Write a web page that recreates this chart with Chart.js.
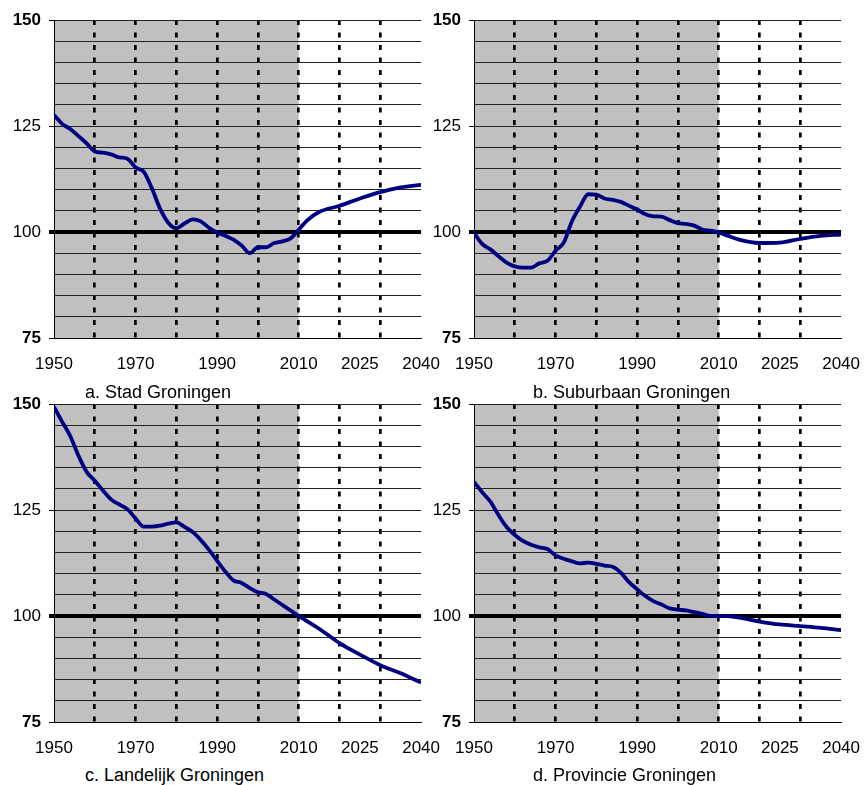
<!DOCTYPE html>
<html>
<head>
<meta charset="utf-8">
<script src="https://cdn.jsdelivr.net/npm/chart.js@4.4.1/dist/chart.umd.min.js"></script>
<style>
  body { margin: 0; background: #fff; }
  #wrap { position: relative; width: 868px; height: 785px; overflow: hidden; }
  .panel { position: absolute; }
  .caption { position: absolute; font-family: 'Liberation Sans', Arial, sans-serif; font-size: 18px; color: #000; white-space: nowrap; }
</style>
</head>
<body>
<div id="wrap">
  <canvas id="chartA" class="panel" width="456" height="380" style="left:0;top:0"></canvas>
  <canvas id="chartB" class="panel" width="456" height="380" style="left:420px;top:0"></canvas>
  <canvas id="chartC" class="panel" width="456" height="380" style="left:0;top:384px"></canvas>
  <canvas id="chartD" class="panel" width="456" height="380" style="left:420px;top:384px"></canvas>
  <div class="caption" style="left:85px;top:382px">a. Stad Groningen</div>
  <div class="caption" style="left:533px;top:382px">b. Suburbaan Groningen</div>
  <div class="caption" style="left:85px;top:765px">c. Landelijk Groningen</div>
  <div class="caption" style="left:533px;top:765px">d. Provincie Groningen</div>
</div>
<script>
// index, base = 100 in 2010
const years = [1950, 1952, 1954, 1956, 1958, 1960, 1962, 1964, 1966, 1968,
               1970, 1972, 1974, 1976, 1978, 1980, 1982, 1984, 1986, 1988,
               1990, 1992, 1994, 1996, 1998, 2000, 2002, 2004, 2006, 2008,
               2010, 2012, 2015, 2020, 2025, 2030, 2035, 2040];

const stad = [127.6, 125.5, 124.3, 122.6, 120.9, 119.0, 118.7, 118.3, 117.6, 117.3,
              115.2, 114.2, 110.3, 105.5, 102.2, 100.9, 102.0, 103.0, 102.5, 101.0,
              99.9, 99.1, 98.2, 96.8, 95.0, 96.4, 96.4, 97.4, 97.8, 98.5,
              100.5, 102.7, 104.7, 106.2, 107.9, 109.4, 110.5, 111.1];

const suburbaan = [99.8, 97.2, 95.9, 94.3, 92.8, 91.9, 91.6, 91.6, 92.6, 93.2,
                   95.6, 97.5, 102.5, 106.0, 108.9, 108.8, 107.9, 107.6, 107.1, 106.2,
                   105.3, 104.2, 103.7, 103.6, 102.8, 102.1, 101.9, 101.5, 100.6, 100.3,
                   99.9, 99.2, 98.2, 97.4, 97.5, 98.4, 99.1, 99.4];

const landelijk = [149.3, 145.8, 142.4, 137.8, 134.0, 131.9, 129.6, 127.5, 126.3, 125.2,
                   123.0, 121.1, 121.1, 121.3, 121.8, 122.1, 121.0, 119.8, 117.9, 115.6,
                   113.0, 110.5, 108.4, 107.8, 106.6, 105.6, 105.2, 103.9, 102.6, 101.3,
                   100.0, 98.8, 97.0, 93.6, 90.9, 88.4, 86.5, 84.3];

const provincie = [131.6, 129.2, 127.0, 123.8, 121.0, 119.1, 117.7, 116.8, 116.2, 115.8,
                   114.3, 113.5, 112.9, 112.4, 112.6, 112.3, 111.9, 111.6, 110.2, 108.0,
                   106.3, 104.7, 103.5, 102.7, 101.8, 101.5, 101.3, 100.9, 100.5, 100.0,
                   100.0, 100.0, 99.6, 98.7, 98.0, 97.6, 97.2, 96.7];

const xLabelYears = [1950, 1970, 1990, 2010, 2025, 2040];
const dashYears = [1960, 1970, 1980, 1990, 2000, 2010, 2020, 2030];
const yGridValues = [75, 80, 85, 90, 95, 100, 105, 110, 115, 120, 125, 130, 135, 140, 145, 150];
const yLabelValues = [75, 100, 125, 150];
const historyEnd = 2010;

const fontFamily = "'Liberation Sans', Arial, sans-serif";

// grey background for the observed period
const shadePlugin = {
  id: 'shade',
  beforeDraw(chart) {
    const area = chart.chartArea;
    const x = chart.scales.x;
    const ctx = chart.ctx;
    ctx.save();
    ctx.fillStyle = '#c0c0c0';
    ctx.fillRect(area.left, area.top, x.getPixelForValue(historyEnd) - area.left, area.bottom - area.top);
    ctx.restore();
  }
};

function makeChart(id, values) {
  return new Chart(document.getElementById(id), {
    type: 'line',
    data: {
      datasets: [{
        data: years.map((y, i) => ({ x: y, y: values[i] })),
        borderColor: '#000080',
        borderWidth: 3.8,
        pointRadius: 0,
        cubicInterpolationMode: 'monotone',
        fill: false
      }]
    },
    options: {
      responsive: false,
      animation: false,
      devicePixelRatio: 1,
      layout: { padding: { top: 20, right: 19, bottom: 2, left: 0 } },
      plugins: { legend: { display: false }, tooltip: { enabled: false } },
      scales: {
        x: {
          type: 'linear',
          min: 1950,
          max: 2040,
          position: 'bottom',
          afterBuildTicks: axis => { axis.ticks = xLabelYears.map(v => ({ value: v })); },
          afterFit: axis => { axis.height = 40; },
          grid: { display: false, drawTicks: false },
          border: { display: true, color: '#000', width: 1 },
          ticks: {
            padding: 16,
            color: '#000',
            maxRotation: 0,
            autoSkip: false,
            font: { family: fontFamily, size: 17 },
            callback: v => String(v)
          }
        },
        xg: {
          type: 'linear',
          min: 1950,
          max: 2040,
          position: 'bottom',
          afterBuildTicks: axis => { axis.ticks = dashYears.map(v => ({ value: v })); },
          afterFit: axis => { axis.height = 0; },
          grid: { color: '#000', lineWidth: 2.7, drawTicks: false },
          border: { display: false, dash: [5, 7.5] },
          ticks: { display: false }
        },
        y: {
          min: 75,
          max: 150,
          afterBuildTicks: axis => { axis.ticks = yGridValues.map(v => ({ value: v })); },
          afterFit: axis => { axis.width = 54; },
          border: { display: true, color: '#000', width: 1 },
          grid: {
            color: c => c.tick.value === 100 ? '#000' : '#222',
            lineWidth: c => c.tick.value === 100 ? 4 : 1,
            tickLength: 5,
            tickColor: c => yLabelValues.includes(c.tick.value) ? '#000' : 'rgba(0,0,0,0)'
          },
          ticks: {
            padding: 8,
            color: '#000',
            autoSkip: false,
            font: c => ({
              family: fontFamily,
              size: 17,
              weight: (c.tick && (c.tick.value === 150 || c.tick.value === 75)) ? 'bold' : 'normal'
            }),
            callback: v => yLabelValues.includes(v) ? String(v) : ''
          }
        }
      }
    },
    plugins: [shadePlugin]
  });
}

makeChart('chartA', stad);
makeChart('chartB', suburbaan);
makeChart('chartC', landelijk);
makeChart('chartD', provincie);
</script>
</body>
</html>
